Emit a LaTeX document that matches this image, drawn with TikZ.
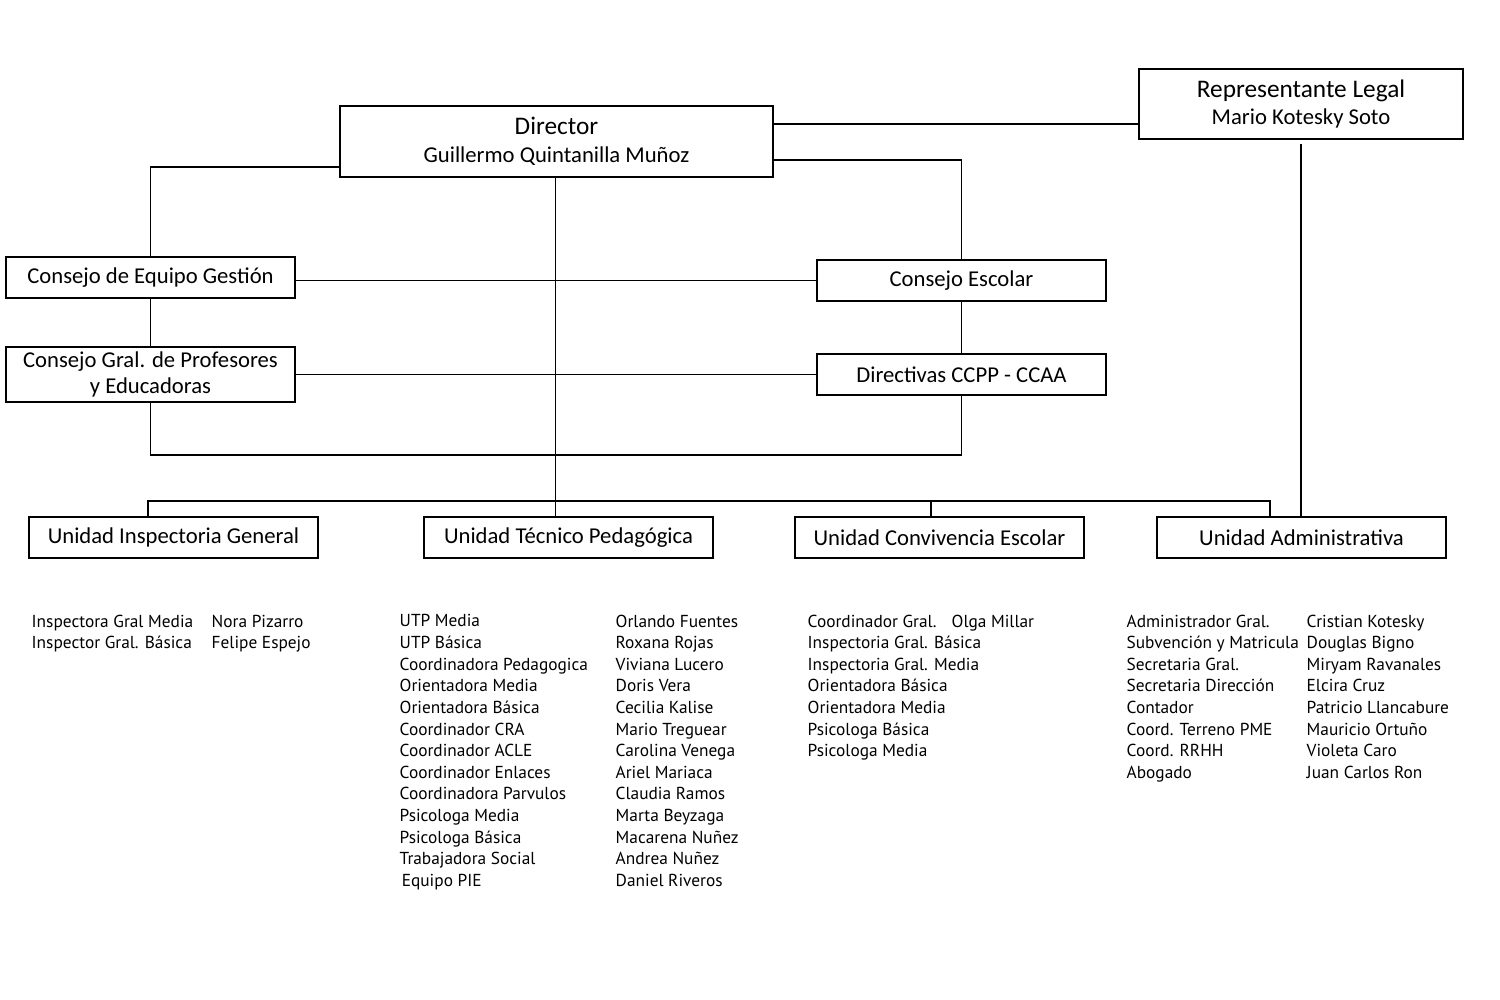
\documentclass[tikz,border=0pt]{standalone}
\usepackage{fontspec}
\setmainfont{Carlito}
\newfontfamily\listfont{PT Sans}
\tikzset{
  caja/.style={draw,line width=0.45pt,minimum width=2.89cm,minimum height=0.41cm,inner sep=0pt,font=\fontsize{6.45}{7.4}\selectfont},
  lista/.style={anchor=north west,inner sep=0pt,align=left,font=\listfont\fontsize{4.93}{6.15}\selectfont},
  linea/.style={line width=0.45pt}
}
\begin{document}
\begin{tikzpicture}
\useasboundingbox (0,0) rectangle (15,-10);
% cajas superiores
\node[caja,minimum width=4.33cm,minimum height=0.71cm,align=center] (dir) at (5.565,-1.415)
  {{\fontsize{7.2}{8}\selectfont Director}\\[0.4pt]Guillermo Quintanilla Muñoz};
\node[caja,minimum width=3.24cm,minimum height=0.70cm,align=center] (rep) at (13.01,-1.04)
  {{\fontsize{7.2}{8}\selectfont Representante Legal}\\[0.4pt]Mario Kotesky Soto};
\node[caja] (eq) at (1.505,-2.775) {Consejo de Equipo Gestión};
\node[caja] (esc) at (9.615,-2.805) {Consejo Escolar};
\node[caja,minimum height=0.55cm,align=center] (gral) at (1.505,-3.745) {Consejo Gral. de Profesores\\y Educadoras};
\node[caja] (dirv) at (9.615,-3.745) {Directivas CCPP - CCAA};
% unidades
\node[caja] (insp) at (1.735,-5.375) {Unidad Inspectoria General};
\node[caja] (utp) at (5.685,-5.375) {Unidad Técnico Pedagógica};
\node[caja] (conv) at (9.395,-5.375) {Unidad Convivencia Escolar};
\node[caja] (adm) at (13.015,-5.375) {Unidad Administrativa};
% puntos de union
\coordinate (lazo) at (0,-4.55);
\coordinate (bus1) at (1.48,-5.01);
\coordinate (bus2) at (9.31,-5.01);
\coordinate (bus3) at (12.70,-5.01);
\coordinate (eje) at (5.555,0);
% conectores
\draw[linea] (dir.east |- 0,-1.24) -- (rep.west |- 0,-1.24);
\draw[linea] (dir.east |- 0,-1.60) -| (esc.north);
\draw[linea] (dir.west |- 0,-1.67) -| (eq.north);
\draw[linea] (dir.south -| eje) -- (utp.north -| eje);
\draw[linea] (eq.east |- esc.west) -- (esc.west);
\draw[linea] (eq.south) -- (gral.north);
\draw[linea] (gral.east) -- (dirv.west);
\draw[linea] (esc.south) -- (dirv.north);
\draw[linea] (gral.south) |- (lazo -| dirv.south) -- (dirv.south);
\draw[linea] (insp.north -| bus1) -- (bus1) -- (bus3) -- (adm.north -| bus3);
\draw[linea] (bus2) -- (conv.north -| bus2);
\draw[linea] ([yshift=-1.2pt]rep.south) -- (adm.north -| rep.south);
% listas
\node[lista] (l1a) at (0.31,-6.14) {Inspectora Gral Media\\Inspector Gral. Básica};
\node[lista] (l1b) at (2.11,-6.14) {Nora Pizarro\\Felipe Espejo};
\node[lista] (l2a) at (3.99,-6.14) {UTP Media\\UTP Básica\\Coordinadora Pedagogica\\Orientadora Media\\Orientadora Básica\\Coordinador CRA\\Coordinador ACLE\\Coordinador Enlaces\\Coordinadora Parvulos\\Psicologa Media\\Psicologa Básica\\Trabajadora Social\\\hspace{0.6pt}Equipo PIE};
\node[lista] (l2b) at (6.15,-6.14) {Orlando Fuentes\\Roxana Rojas\\Viviana Lucero\\Doris Vera\\Cecilia Kalise\\Mario Treguear\\Carolina Venega\\Ariel Mariaca\\Claudia Ramos\\Marta Beyzaga\\Macarena Nuñez\\Andrea Nuñez\\Daniel Riveros};
\node[lista] (l3a) at (8.07,-6.14) {Coordinador Gral.\\Inspectoria Gral. Básica\\Inspectoria Gral. Media\\Orientadora Básica\\Orientadora Media\\Psicologa Básica\\Psicologa Media};
\node[lista] (l3b) at (9.51,-6.14) {Olga Millar};
\node[lista] (l4a) at (11.26,-6.14) {Administrador Gral.\\Subvención y Matricula\\Secretaria Gral.\\Secretaria Dirección\\Contador\\Coord. Terreno PME\\Coord. RRHH\\Abogado};
\node[lista] (l4b) at (13.06,-6.14) {Cristian Kotesky\\Douglas Bigno\\Miryam Ravanales\\Elcira Cruz\\Patricio Llancabure\\Mauricio Ortuño\\Violeta Caro\\Juan Carlos Ron};
\end{tikzpicture}
\end{document}
